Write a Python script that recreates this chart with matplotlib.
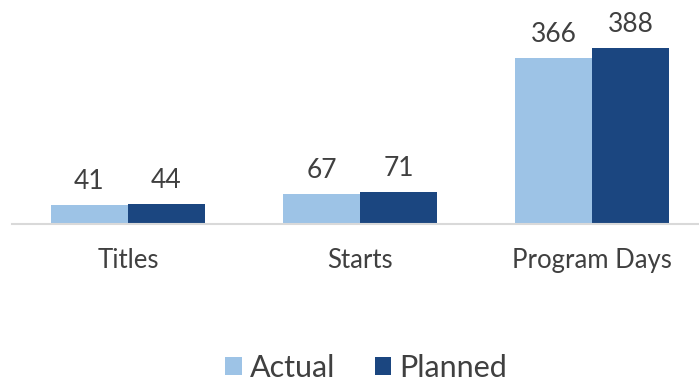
import matplotlib.pyplot as plt
import numpy as np

categories = ['Titles', 'Starts', 'Program Days']
actual = [41, 67, 366]
planned = [44, 71, 388]

plt.rcParams['font.family'] = ['Lato', 'DejaVu Sans']

fig = plt.figure(figsize=(6.99, 3.85), dpi=100)
ax = fig.add_axes([12 / 699, 161 / 385, 696 / 699, 181.4 / 385])

x = np.arange(len(categories))
w = 0.332
b1 = ax.bar(x - w / 2, actual, w, color='#9dc3e6', label='Actual')
b2 = ax.bar(x + w / 2, planned, w, color='#1b4680', label='Planned')

for bars in (b1, b2):
    for rect in bars:
        h = rect.get_height()
        ax.annotate(f'{h:.0f}', (rect.get_x() + rect.get_width() / 2, h),
                    xytext=(0, 8), textcoords='offset points',
                    ha='center', va='bottom', fontsize=19, color='#404040')

ax.set_xlim(-0.5, 2.5)
ax.set_ylim(0, 400)
ax.set_xticks(x)
ax.set_xticklabels(categories, fontsize=18.5, color='#404040')
ax.tick_params(axis='x', length=0, pad=17)
ax.set_yticks([])
for s in ('top', 'right', 'left'):
    ax.spines[s].set_visible(False)
ax.spines['bottom'].set_color('#d9d9d9')
ax.spines['bottom'].set_linewidth(1.5)

fig.legend(loc='center', bbox_to_anchor=(366 / 699, 1 - 368 / 385), ncol=2,
           frameon=False, fontsize=22, handlelength=0.55, handleheight=0.55,
           handletextpad=0.25, columnspacing=1.3, labelcolor='#404040')

fig.savefig('out.png', dpi=100)
